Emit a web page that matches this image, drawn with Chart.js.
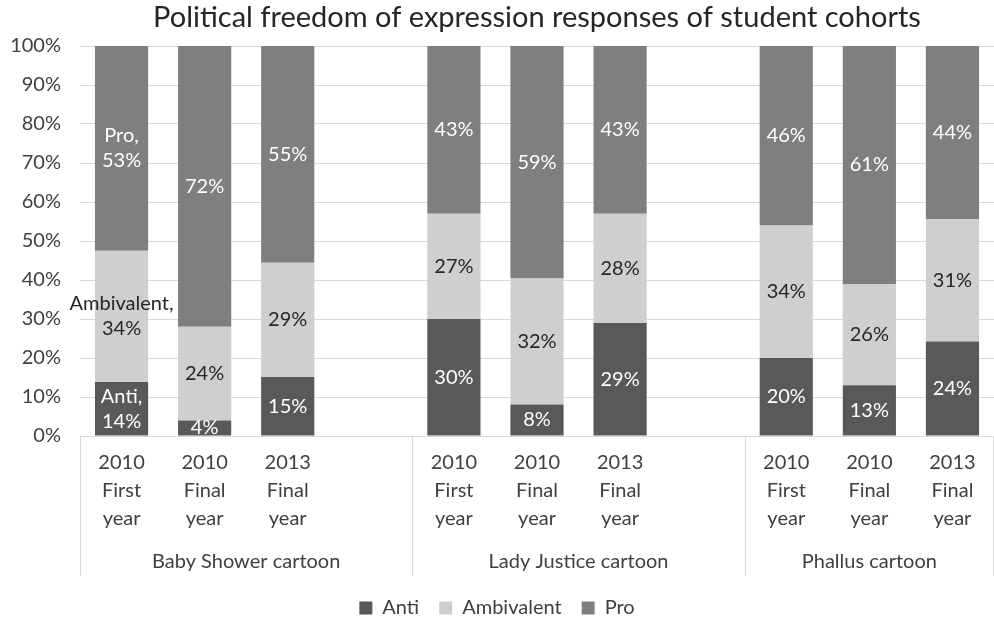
<!DOCTYPE html>
<html>
<head>
<meta charset="utf-8">
<script src="https://cdn.jsdelivr.net/npm/chart.js@4.4.1/dist/chart.umd.min.js"></script>
<style>
  html, body { margin: 0; padding: 0; background: #fff; }
  #wrap { width: 994px; height: 622px; }
</style>
</head>
<body>
<div id="wrap"><canvas id="chart" width="994" height="622"></canvas></div>
<script>
const groups = ['Baby Shower cartoon', 'Lady Justice cartoon', 'Phallus cartoon']
const cohorts = [['2010', 'First', 'year'], ['2010', 'Final', 'year'], ['2013', 'Final', 'year']]
const seriesNames = ['Anti', 'Ambivalent', 'Pro']

// one value per cohort, groups in order
const antiValues = [14, 4, 15, 30, 8, 29, 20, 13, 24]
const ambivalentValues = [34, 24, 29, 27, 32, 28, 34, 26, 31]
const proValues = [53, 72, 55, 43, 59, 43, 46, 61, 44]
const yTicks = [0, 10, 20, 30, 40, 50, 60, 70, 80, 90, 100]

const titleText = 'Political freedom of expression responses of student cohorts'
const colors = ['#595959', '#cfcfcf', '#7f7f7f']
const labelColors = ['#ffffff', '#262626', '#ffffff']
const FONT = 'Lato, "Open Sans", sans-serif'
const AXIS_H = 140

// lay out categories: three cohorts per group, an empty slot between groups
const labels = []
const slotToIndex = []
groups.forEach((g, gi) => {
  cohorts.forEach((c, ci) => {
    labels.push(c)
    slotToIndex.push(gi * cohorts.length + ci)
  })
  if (gi < groups.length - 1) {
    labels.push('')
    slotToIndex.push(null)
  }
})

const raw = [antiValues, ambivalentValues, proValues]
const totals = antiValues.map((v, i) => v + ambivalentValues[i] + proValues[i])

// 100% stacked: each segment is its share of the bar total
const datasets = raw.map((values, si) => ({
  label: seriesNames[si],
  data: slotToIndex.map(idx => idx === null ? null : values[idx] / totals[idx] * 100),
  rawValues: slotToIndex.map(idx => idx === null ? null : values[idx]),
  backgroundColor: colors[si],
  borderWidth: 0,
  categoryPercentage: 1,
  barPercentage: 0.64
}))

const segmentLabels = {
  id: 'segmentLabels',
  afterDatasetsDraw(chart) {
    const ctx = chart.ctx
    ctx.save()
    ctx.font = '20px ' + FONT
    ctx.textAlign = 'center'
    ctx.textBaseline = 'middle'
    chart.data.datasets.forEach((ds, si) => {
      const meta = chart.getDatasetMeta(si)
      meta.data.forEach((bar, i) => {
        const v = ds.rawValues[i]
        if (v === null) return
        const cy = (bar.y + bar.base) / 2
        const lines = i === 0 ? [ds.label + ',', v + '%'] : [v + '%']
        ctx.fillStyle = labelColors[si]
        const lh = 25
        lines.forEach((t, li) => {
          ctx.fillText(t, bar.x, cy + (li - (lines.length - 1) / 2) * lh)
        })
      })
    })
    ctx.restore()
  }
}

// title centred over the plot area, plus the group row under the cohort labels
const groupAxis = {
  id: 'groupAxis',
  afterDraw(chart) {
    const ctx = chart.ctx
    const area = chart.chartArea
    const slot = (area.right - area.left) / labels.length
    const bottom = area.bottom + AXIS_H
    const edges = [area.left, area.left + 4 * slot, area.left + 8 * slot, area.right - 1]
    ctx.save()
    ctx.font = '29px ' + FONT
    ctx.fillStyle = '#262626'
    ctx.textAlign = 'center'
    ctx.textBaseline = 'middle'
    ctx.fillText(titleText, (area.left + area.right) / 2, 18)

    ctx.strokeStyle = '#d9d9d9'
    ctx.lineWidth = 1
    edges.forEach(e => {
      const px = Math.round(e) + 0.5
      ctx.beginPath()
      ctx.moveTo(px, area.bottom)
      ctx.lineTo(px, bottom)
      ctx.stroke()
    })
    ctx.font = '20px ' + FONT
    ctx.fillStyle = '#404040'
    const spans = [[0, 4], [4, 8], [8, 11]]
    groups.forEach((g, gi) => {
      const l = area.left + spans[gi][0] * slot
      const r = area.left + spans[gi][1] * slot
      ctx.fillText(g, (l + r) / 2, area.bottom + 126)
    })
    ctx.restore()
  }
}

new Chart(document.getElementById('chart'), {
  type: 'bar',
  data: { labels, datasets },
  options: {
    responsive: false,
    animation: false,
    layout: { padding: { left: 0, right: 0, top: 46, bottom: -6 } },
    scales: {
      x: {
        stacked: true,
        grid: { display: false, drawTicks: false },
        border: { display: false },
        ticks: {
          color: '#404040',
          font: { family: FONT, size: 20, lineHeight: 1.4 },
          padding: 13,
          maxRotation: 0,
          autoSkip: false
        },
        afterFit(scale) { scale.height = AXIS_H + 2 }
      },
      y: {
        stacked: true,
        min: 0,
        max: 100,
        afterBuildTicks(scale) { scale.ticks = yTicks.map(v => ({ value: v })) },
        grid: { color: '#d9d9d9', drawTicks: false },
        border: { display: false },
        ticks: {
          color: '#404040',
          font: { family: FONT, size: 20 },
          padding: 19,
          callback: v => v + '%'
        },
        afterFit(scale) { scale.width = 80 }
      }
    },
    plugins: {
      title: { display: false },
      legend: {
        position: 'bottom',
        labels: {
          color: '#404040',
          font: { family: FONT, size: 20 },
          boxWidth: 13,
          boxHeight: 13,
          padding: 20
        }
      },
      tooltip: { enabled: false }
    }
  },
  plugins: [segmentLabels, groupAxis]
})
</script>
</body>
</html>
